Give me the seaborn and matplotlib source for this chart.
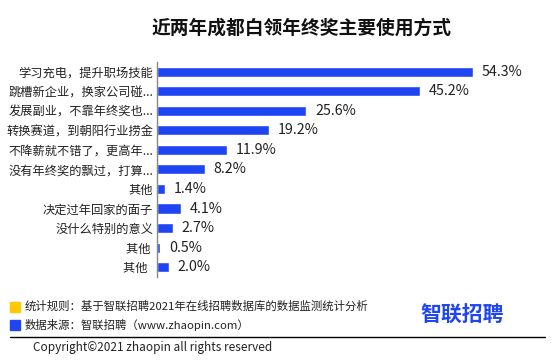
import matplotlib.pyplot as plt
import seaborn as sns
import numpy as np
import pandas as pd

# ── Data ─────────────────────────────────────────────────────
categories = ['学习充电，提升职场技能', '跳槽新企业，换家公司碰...', '发展副业，不靠年终奖也...',
              '转换赛道，到朝阳行业捞金', '不降薪就不错了，更高年...', '没有年终奖的飘过，打算...',
              '其他', '决定过年回家的面子', '没什么特别的意义', '其他 ', '其他  ']
values = [54.3, 45.2, 25.6, 19.2, 11.9, 8.2, 1.4, 4.1, 2.7, 0.5, 2.0]
value_labels = ['54.3%', '45.2%', '25.6%', '19.2%', '11.9%', '8.2%', '1.4%', '4.1%', '2.7%', '0.5%', '2.0%']

df = pd.DataFrame({'cat': categories, 'val': values})

sns.set_style('white')
plt.rcParams['font.family'] = ['Noto Sans CJK SC', 'DejaVu Sans']

blue = '#1F45F2'
fig = plt.figure(figsize=(5.54, 3.62), dpi=100)
ax = fig.add_axes([0.284, 0.235, 0.63, 0.594])

sns.barplot(data=df, x='val', y='cat', color=blue, width=0.52, saturation=1, ax=ax)

for i, (v, lab) in enumerate(zip(values, value_labels)):
    ax.text(v + 1.5, i, lab, va='center', ha='left', fontsize=10.3, color='#222222')

ax.set_xlim(0, 60)
ax.set_ylim(len(categories) - 0.5, -0.5)
ax.set_xlabel('')
ax.set_ylabel('')
ax.set_xticks([])
for s in ['top', 'right', 'bottom']:
    ax.spines[s].set_visible(False)
ax.spines['left'].set_color('#888888')
ax.spines['left'].set_linewidth(1)
ax.tick_params(axis='y', which='major', length=0, labelsize=8.8, pad=3, labelcolor='#222222')
ax.set_yticks(np.arange(-0.5, len(categories), 1), minor=True)
ax.tick_params(axis='y', which='minor', length=4, color='#888888', direction='out')

# ── Title & footer ──────────────────────────────────────────
fig.text(0.545, 0.922, '近两年成都白领年终奖主要使用方式', ha='center', va='center',
         fontsize=13.5, fontweight='bold', color='#111111')

fig.patches.append(plt.Rectangle((10 / 554, 1 - 312 / 362), 10 / 554, 10 / 362,
                                 transform=fig.transFigure, color='#FFC800'))
fig.patches.append(plt.Rectangle((10 / 554, 1 - 330 / 362), 10 / 554, 10 / 362,
                                 transform=fig.transFigure, color=blue))
fig.text(25 / 554, 1 - 306 / 362, '统计规则：基于智联招聘2021年在线招聘数据库的数据监测统计分析',
         fontsize=8.2, va='center', color='#222222')
fig.text(25 / 554, 1 - 325 / 362, '数据来源：智联招聘（www.zhaopin.com）',
         fontsize=8.2, va='center', color='#222222')
fig.text(462 / 554, 1 - 315 / 362, '智联招聘', fontsize=15, fontweight='bold',
         color=blue, ha='center', va='center')
fig.lines.append(plt.Line2D([10 / 554, 545 / 554], [1 - 337 / 362, 1 - 337 / 362],
                            transform=fig.transFigure, color='black', linewidth=1))
fig.text(33 / 554, 1 - 348 / 362, 'Copyright©2021 zhaopin all rights reserved',
         fontsize=8.5, va='center', color='#222222')

plt.savefig('out.png', dpi=100)
